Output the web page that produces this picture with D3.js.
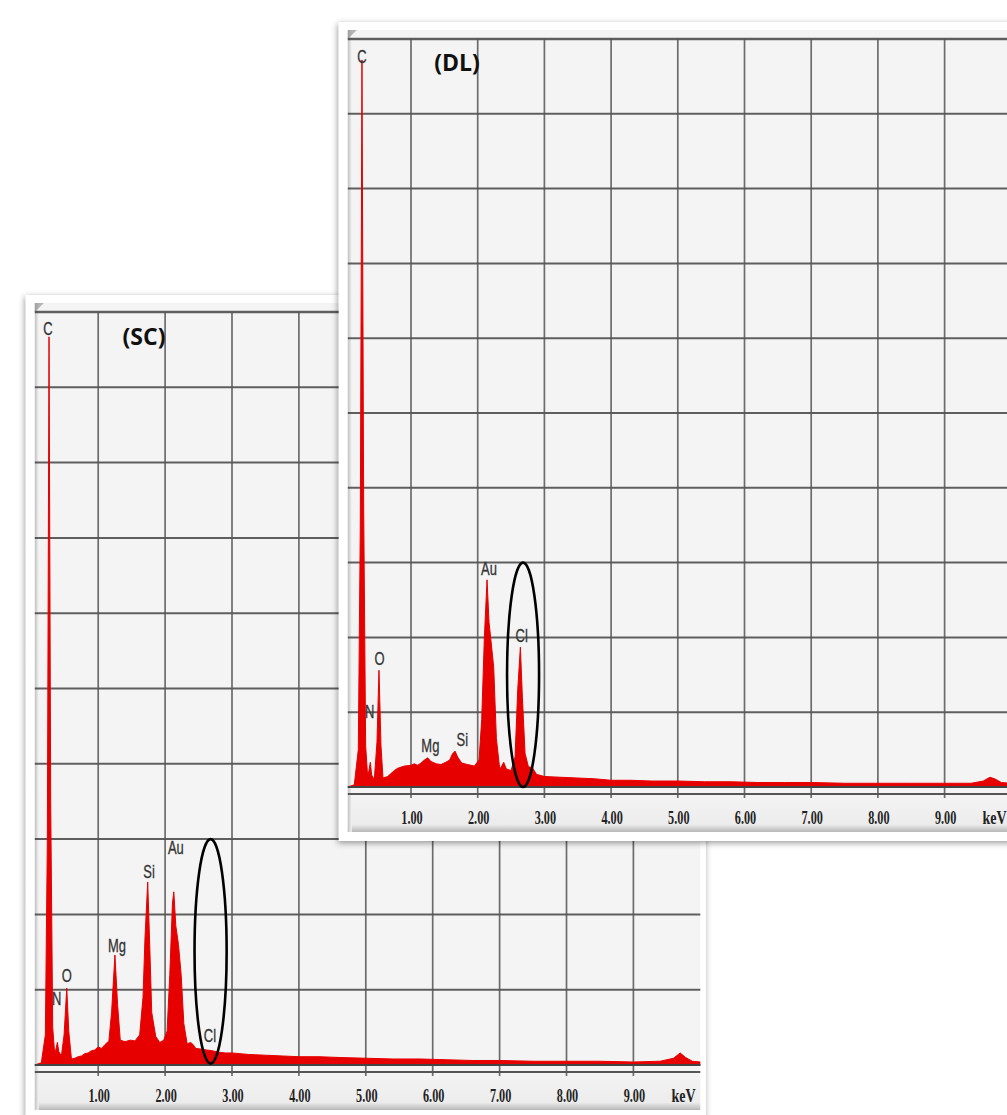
<!DOCTYPE html>
<html>
<head>
<meta charset="utf-8">
<script src="https://cdn.jsdelivr.net/npm/d3@7"></script>
<style>
  html, body { margin: 0; padding: 0; background: #fff; }
  svg { display: block; }
</style>
</head>
<body>
<svg id="chart" width="1007" height="1115"></svg>
<script>
// 横軸 (keV)
const kevTicks = [1, 2, 3, 4, 5, 6, 7, 8, 9];
const countGrid = [0, 100, 200, 300, 400, 500, 600, 700, 800, 900, 1000];

// スペクトル (keV, counts) — SC
const scSpectrum = [
  [0.05,0],[0.15,3],[0.21,40],[0.24,300],[0.265,967],[0.29,350],[0.32,50],[0.35,14],[0.37,22],
  [0.39,30],[0.41,18],[0.45,12],[0.49,40],[0.53,102],[0.56,45],[0.60,8],[0.65,9],[0.70,11],
  [0.75,12],[0.80,15],[0.85,16],[0.90,19],[0.95,20],[1.00,24],[1.05,22],[1.10,27],[1.16,32],
  [1.20,70],[1.25,146],[1.29,80],[1.33,33],[1.40,31],[1.48,33],[1.55,32],[1.62,40],[1.67,90],
  [1.70,170],[1.74,243],[1.77,160],[1.80,70],[1.86,38],[1.92,30],[1.98,33],[2.03,45],[2.07,120],
  [2.11,215],[2.13,230],[2.16,185],[2.20,160],[2.24,120],[2.28,55],[2.33,28],[2.38,30],[2.41,28],
  [2.46,22],[2.55,21],[2.62,20],[2.70,19],[2.80,17],[2.90,16],[3.00,16],[3.25,14],[3.50,13],
  [3.75,12],[4.00,11],[4.30,11],[4.60,10],[5.00,9],[5.40,8],[5.80,8],[6.20,7],[6.60,6],[7.00,6],
  [7.50,5],[8.00,5],[8.50,5],[9.00,4],[9.40,5],[9.60,9],[9.70,16],[9.78,10],[9.88,5],[10,4]
];

// スペクトル — DL
const dlSpectrum = [
  [0.05,0],[0.15,3],[0.21,50],[0.24,350],[0.265,972],[0.29,380],[0.32,55],[0.35,14],[0.37,22],
  [0.39,33],[0.41,16],[0.45,10],[0.49,60],[0.52,156],[0.55,55],[0.58,12],[0.65,14],[0.70,18],
  [0.75,22],[0.80,25],[0.90,28],[1.00,29],[1.05,31],[1.10,29],[1.15,32],[1.20,36],[1.25,39],
  [1.30,34],[1.38,31],[1.45,30],[1.52,33],[1.58,36],[1.62,44],[1.66,48],[1.70,40],[1.76,32],
  [1.85,30],[1.95,28],[2.02,36],[2.06,90],[2.10,200],[2.14,277],[2.17,220],[2.20,195],[2.24,160],
  [2.28,65],[2.33,24],[2.36,28],[2.39,33],[2.43,24],[2.50,22],[2.56,40],[2.60,130],[2.64,187],
  [2.67,120],[2.71,45],[2.76,27],[2.82,26],[2.88,17],[3.00,14],[3.25,13],[3.50,12],[3.75,11],
  [4.00,9],[4.30,9],[4.60,8],[5.00,8],[5.40,7],[5.80,7],[6.20,6],[6.60,6],[7.00,6],[7.50,5],
  [8.00,5],[8.50,5],[9.00,5],[9.40,5],[9.58,8],[9.68,13],[9.75,11],[9.85,6],[10,5]
];

// ピークラベル [元素, keV, counts(文字の下端)]
const scLabels = [
  ["C", 0.25, 970], ["N", 0.38, 80], ["O", 0.53, 110], ["Mg", 1.28, 150],
  ["Si", 1.76, 248], ["Au", 2.16, 280], ["Cl", 2.67, 30]
];
const dlLabels = [
  ["C", 0.265, 968], ["N", 0.38, 92], ["O", 0.53, 163], ["Mg", 1.29, 47],
  ["Si", 1.77, 55], ["Au", 2.17, 283], ["Cl", 2.66, 194]
];

// 楕円で囲んだ Cl 領域 [keV min, keV max, counts min, counts max]
const scCircle = [2.44, 2.92, 2, 300];
const dlCircle = [2.44, 2.92, 0, 300];

const svg = d3.select("#chart");
const defs = svg.append("defs");

// 影
const shadow = defs.append("filter").attr("id", "shadow")
  .attr("x", "-5%").attr("y", "-5%").attr("width", "110%").attr("height", "110%");
shadow.append("feDropShadow")
  .attr("dx", -1).attr("dy", 2).attr("stdDeviation", 3)
  .attr("flood-color", "#000").attr("flood-opacity", 0.4);

// 目盛り帯のグラデーション
const grad = defs.append("linearGradient").attr("id", "band")
  .attr("x1", 0).attr("y1", 0).attr("x2", 0).attr("y2", 1);
grad.append("stop").attr("offset", "0%").attr("stop-color", "#f4f4f4");
grad.append("stop").attr("offset", "80%").attr("stop-color", "#ececec");
grad.append("stop").attr("offset", "100%").attr("stop-color", "#b8b8b8");

const leftGrad = defs.append("linearGradient").attr("id", "bevel")
  .attr("x1", 0).attr("y1", 0).attr("x2", 1).attr("y2", 0);
leftGrad.append("stop").attr("offset", "0%").attr("stop-color", "#c0c0c0");
leftGrad.append("stop").attr("offset", "100%").attr("stop-color", "#f4f4f4");

function drawPanel(id, title, spectrum, labels, circle, xRange, yRange, outerRight, titlePos) {
  const x = d3.scaleLinear().domain([0, 10]).range(xRange);
  const y = d3.scaleLinear().domain([0, 1000]).range(yRange);

  const left = x(0) + 3.5;
  const right = x(10);
  const top = y(1000) - 9;
  const axisY = y(0) + 7;
  const bandBottom = y(0) + 45;

  const g = svg.append("g").attr("id", id);

  // 外枠
  g.append("rect")
    .attr("x", left - 9).attr("y", top - 8)
    .attr("width", outerRight - (left - 9)).attr("height", bandBottom + 9 - (top - 8))
    .attr("fill", "#fff")
    .attr("filter", "url(#shadow)");

  // プロット背景
  g.append("rect")
    .attr("x", left).attr("y", top)
    .attr("width", right - left).attr("height", axisY - top)
    .attr("fill", "#f4f4f4");
  g.append("rect")
    .attr("x", left).attr("y", axisY)
    .attr("width", right - left).attr("height", bandBottom - axisY)
    .attr("fill", "url(#band)");
  g.append("rect")
    .attr("x", left).attr("y", top)
    .attr("width", 4).attr("height", bandBottom - top)
    .attr("fill", "url(#bevel)");
  g.append("path")
    .attr("d", `M${left},${top}L${left + 9},${top}L${left},${top + 9}Z`)
    .attr("fill", "#888").attr("opacity", 0.6);

  const clipId = id + "-clip";
  defs.append("clipPath").attr("id", clipId)
    .append("rect")
    .attr("x", left + 1).attr("y", top)
    .attr("width", right - left - 1).attr("height", axisY - top);

  // 横グリッド
  g.append("g")
    .selectAll("line")
    .data(countGrid)
    .enter()
    .append("line")
    .attr("x1", left).attr("x2", right)
    .attr("y1", d => y(d)).attr("y2", d => y(d))
    .attr("stroke", "#444")
    .attr("stroke-width", d => d === 1000 ? 2.4 : 2)
    .attr("opacity", 0.85);

  // 縦グリッド
  g.append("g")
    .selectAll("line")
    .data(kevTicks)
    .enter()
    .append("line")
    .attr("x1", d => x(d)).attr("x2", d => x(d))
    .attr("y1", top + 9).attr("y2", axisY + 4)
    .attr("stroke", "#555")
    .attr("stroke-width", 1.7)
    .attr("opacity", 0.85);

  // スペクトル
  const area = d3.area()
    .x(d => x(d[0]))
    .y0(y(0))
    .y1(d => y(d[1]));

  g.append("path")
    .datum(spectrum)
    .attr("clip-path", `url(#${clipId})`)
    .attr("d", area)
    .attr("fill", "#e60000")
    .attr("stroke", "#e60000")
    .attr("stroke-width", 1)
    .attr("stroke-linejoin", "round");

  // ベースラインと軸線
  g.append("line")
    .attr("x1", left).attr("x2", right)
    .attr("y1", y(0)).attr("y2", y(0))
    .attr("stroke", "#444").attr("stroke-width", 1.8);
  g.append("line")
    .attr("x1", left).attr("x2", right)
    .attr("y1", axisY).attr("y2", axisY)
    .attr("stroke", "#555").attr("stroke-width", 1.8);

  // 目盛りラベル
  g.append("g")
    .selectAll("text")
    .data(kevTicks)
    .enter()
    .append("text")
    .attr("transform", d => `translate(${x(d) + 1},${y(0) + 37}) scale(0.68,1)`)
    .attr("text-anchor", "middle")
    .attr("font-family", "'Liberation Serif', 'DejaVu Serif', serif")
    .attr("font-weight", "bold")
    .attr("font-size", "18px")
    .attr("fill", "#222")
    .text(d => d3.format(".2f")(d));

  g.append("text")
    .attr("transform", `translate(${x(9.75)},${y(0) + 37}) scale(0.78,1)`)
    .attr("text-anchor", "middle")
    .attr("font-family", "'Liberation Serif', 'DejaVu Serif', serif")
    .attr("font-weight", "bold")
    .attr("font-size", "18px")
    .attr("fill", "#222")
    .text("keV");

  // ピークラベル
  g.append("g")
    .selectAll("text")
    .data(labels)
    .enter()
    .append("text")
    .attr("transform", d => `translate(${x(d[1])},${y(d[2])}) scale(0.72,1)`)
    .attr("text-anchor", "middle")
    .attr("font-family", "'Liberation Sans', Arial, sans-serif")
    .attr("font-size", "18px")
    .attr("fill", "#333")
    .attr("stroke", "#333")
    .attr("stroke-width", 0.3)
    .text(d => d[0]);

  // Cl の楕円
  g.append("ellipse")
    .attr("cx", (x(circle[0]) + x(circle[1])) / 2)
    .attr("cy", (y(circle[2]) + y(circle[3])) / 2)
    .attr("rx", (x(circle[1]) - x(circle[0])) / 2)
    .attr("ry", (y(circle[2]) - y(circle[3])) / 2)
    .attr("fill", "none")
    .attr("stroke", "#000")
    .attr("stroke-width", 2.6);

  // タイトル
  g.append("text")
    .attr("x", titlePos[0]).attr("y", titlePos[1])
    .attr("text-anchor", "middle")
    .attr("font-family", "'Open Sans', 'DejaVu Sans', sans-serif")
    .attr("font-weight", "bold")
    .attr("font-size", "23px")
    .attr("fill", "#111")
    .text(title);
}

drawPanel("sc", "(SC)", scSpectrum, scLabels, scCircle, [31.3, 700.3], [1065, 312], 706, [144, 345]);
drawPanel("dl", "(DL)", dlSpectrum, dlLabels, dlCircle, [344.3, 1011.3], [787, 39], 1030, [457, 71]);
</script>
</body>
</html>
